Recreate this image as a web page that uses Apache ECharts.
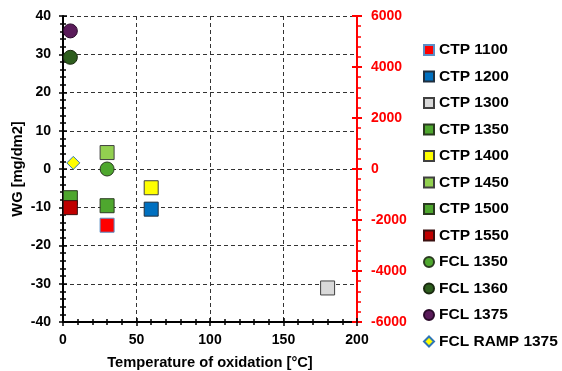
<!DOCTYPE html>
<html>
<head>
<meta charset="utf-8">
<script src="https://cdn.jsdelivr.net/npm/echarts@6/dist/echarts.min.js"></script>
<style>html,body{margin:0;padding:0;background:#fff}#c{width:562px;height:371px}</style>
</head>
<body>
<div id="c"></div>
<script>
// ---- data ----
const seriesNames = ['CTP 1100','CTP 1200','CTP 1300','CTP 1350','CTP 1400','CTP 1450','CTP 1500','CTP 1550','FCL 1350','FCL 1360','FCL 1375','FCL RAMP 1375'];
const xValues = [30, 60, 180, 5, 60, 30, 30, 5, 30, 5, 5, 7];
const yValues = [-14.7, -10.5, -31.1, -7.5, -4.9, 4.3, -9.6, -10.1, 0, 29.2, 36.1, 1.6];
const symbols = ['rect','rect','rect','rect','rect','rect','rect','rect','circle','circle','circle','diamond'];
const fillColors = ['#ff0000','#0070c0','#d9d9d9','#4ea72e','#ffff00','#92d050','#4ea72e','#c00000','#4ea72e','#2e5e1e','#5a1b5a','#ffff00'];
const borderColors = ['#5b8fc7','#1f2f3f','#404040','#2a3a20','#404040','#404040','#2a3a20','#3a1010','#2a3a20','#1a2a10','#2a0a2a','#2e75b6'];
const xTicks = {min:0, max:200, interval:50};
const yLeftTicks = {min:-40, max:40, interval:10};
const yRightTicks = {min:-6000, max:6000, interval:2000};

const font = '"Liberation Sans", Arial, sans-serif';
const chart = echarts.init(document.getElementById('c'), null, {renderer:'canvas'});

const series = seriesNames.map((n,i)=>({
  name:n, type:'scatter', xAxisIndex:0, yAxisIndex:0,
  symbol:symbols[i],
  symbolSize: symbols[i]==='diamond' ? 13 : 14,
  itemStyle:{color:fillColors[i], borderColor:borderColors[i], borderWidth:1, opacity:1},
  emphasis:{disabled:true},
  data:[[xValues[i], yValues[i]]],
  z: 3+i
}));

const gridBox = {left:63, right:205, top:16, bottom:49, containLabel:false, outerBoundsMode:'none'};
const tickOnly = (base, color, minor) => Object.assign({}, base, {
  gridIndex:1,
  axisLine:{show:false, onZero:false},
  axisLabel:{show:false},
  splitLine:{show:false},
  axisTick:{show:true, inside:true, length:4, lineStyle:{color:color, width:1.5}},
  minorTick:{show:minor, splitNumber:5, length:3, lineStyle:{color:color, width:1.5}}
});

const xBase = {type:'value', min:xTicks.min, max:xTicks.max, interval:xTicks.interval, position:'bottom'};
const yLBase = {type:'value', min:yLeftTicks.min, max:yLeftTicks.max, interval:yLeftTicks.interval, position:'left'};
const yRBase = {type:'value', min:yRightTicks.min, max:yRightTicks.max, interval:yRightTicks.interval, position:'right'};
const plain = v => String(v);

chart.setOption({
  animation:false,
  backgroundColor:'#ffffff',
  textStyle:{fontFamily:font},
  grid:[Object.assign({}, gridBox), Object.assign({}, gridBox)],
  legend:{
    orient:'vertical', left:423, top:42, padding:0,
    itemWidth:10, itemHeight:10, itemGap:10.5, itemTextGap:3,
    textStyle:{fontFamily:font, fontWeight:'bold', fontSize:15.5, color:'#000', lineHeight:16},
    data:seriesNames.map(n=>({name:n}))
  },
  xAxis:[
    Object.assign({}, xBase, {
      gridIndex:0,
      name:'Temperature of oxidation [°C]', nameLocation:'middle', nameGap:33,
      nameTextStyle:{fontFamily:font, fontWeight:'bold', fontSize:14.7, color:'#000'},
      axisLine:{show:true, onZero:false, lineStyle:{color:'#000', width:2}},
      axisTick:{show:true, inside:false, length:4, lineStyle:{color:'#000', width:1.5}},
      minorTick:{show:true, splitNumber:5, length:3, lineStyle:{color:'#000', width:1.5}},
      axisLabel:{fontFamily:font, fontWeight:'bold', fontSize:14, color:'#000', margin:11, formatter:plain},
      splitLine:{show:true, lineStyle:{color:'#333', type:[4,3], width:1}}
    }),
    tickOnly(xBase, '#000', true)
  ],
  yAxis:[
    Object.assign({}, yLBase, {
      gridIndex:0,
      name:'WG [mg/dm2]', nameLocation:'middle', nameGap:38, nameRotate:90, nameMoveOverlap:false,
      nameTextStyle:{fontFamily:font, fontWeight:'bold', fontSize:14.7, color:'#000'},
      axisLine:{show:true, onZero:false, lineStyle:{color:'#000', width:2}},
      axisTick:{show:true, inside:false, length:4, lineStyle:{color:'#000', width:1.5}},
      minorTick:{show:true, splitNumber:5, length:3, lineStyle:{color:'#000', width:1.5}},
      axisLabel:{fontFamily:font, fontWeight:'bold', fontSize:14, color:'#000', margin:12, formatter:plain},
      splitLine:{show:true, lineStyle:{color:'#333', type:[4,3], width:1}}
    }),
    Object.assign({}, yRBase, {
      gridIndex:0,
      axisLine:{show:true, onZero:false, lineStyle:{color:'#ff0000', width:2}},
      axisTick:{show:true, inside:false, length:5, lineStyle:{color:'#ff0000', width:2}},
      minorTick:{show:true, splitNumber:5, length:4, lineStyle:{color:'#ff0000', width:1.5}},
      axisLabel:{fontFamily:font, fontWeight:'bold', fontSize:14, color:'#ff0000', margin:14, formatter:plain},
      splitLine:{show:false}
    }),
    tickOnly(yLBase, '#000', true),
    Object.assign(tickOnly(yRBase, '#ff0000', false), {axisTick:{show:true, inside:true, length:5, lineStyle:{color:'#ff0000', width:2}}})
  ],
  series: series
});
</script>
</body>
</html>
